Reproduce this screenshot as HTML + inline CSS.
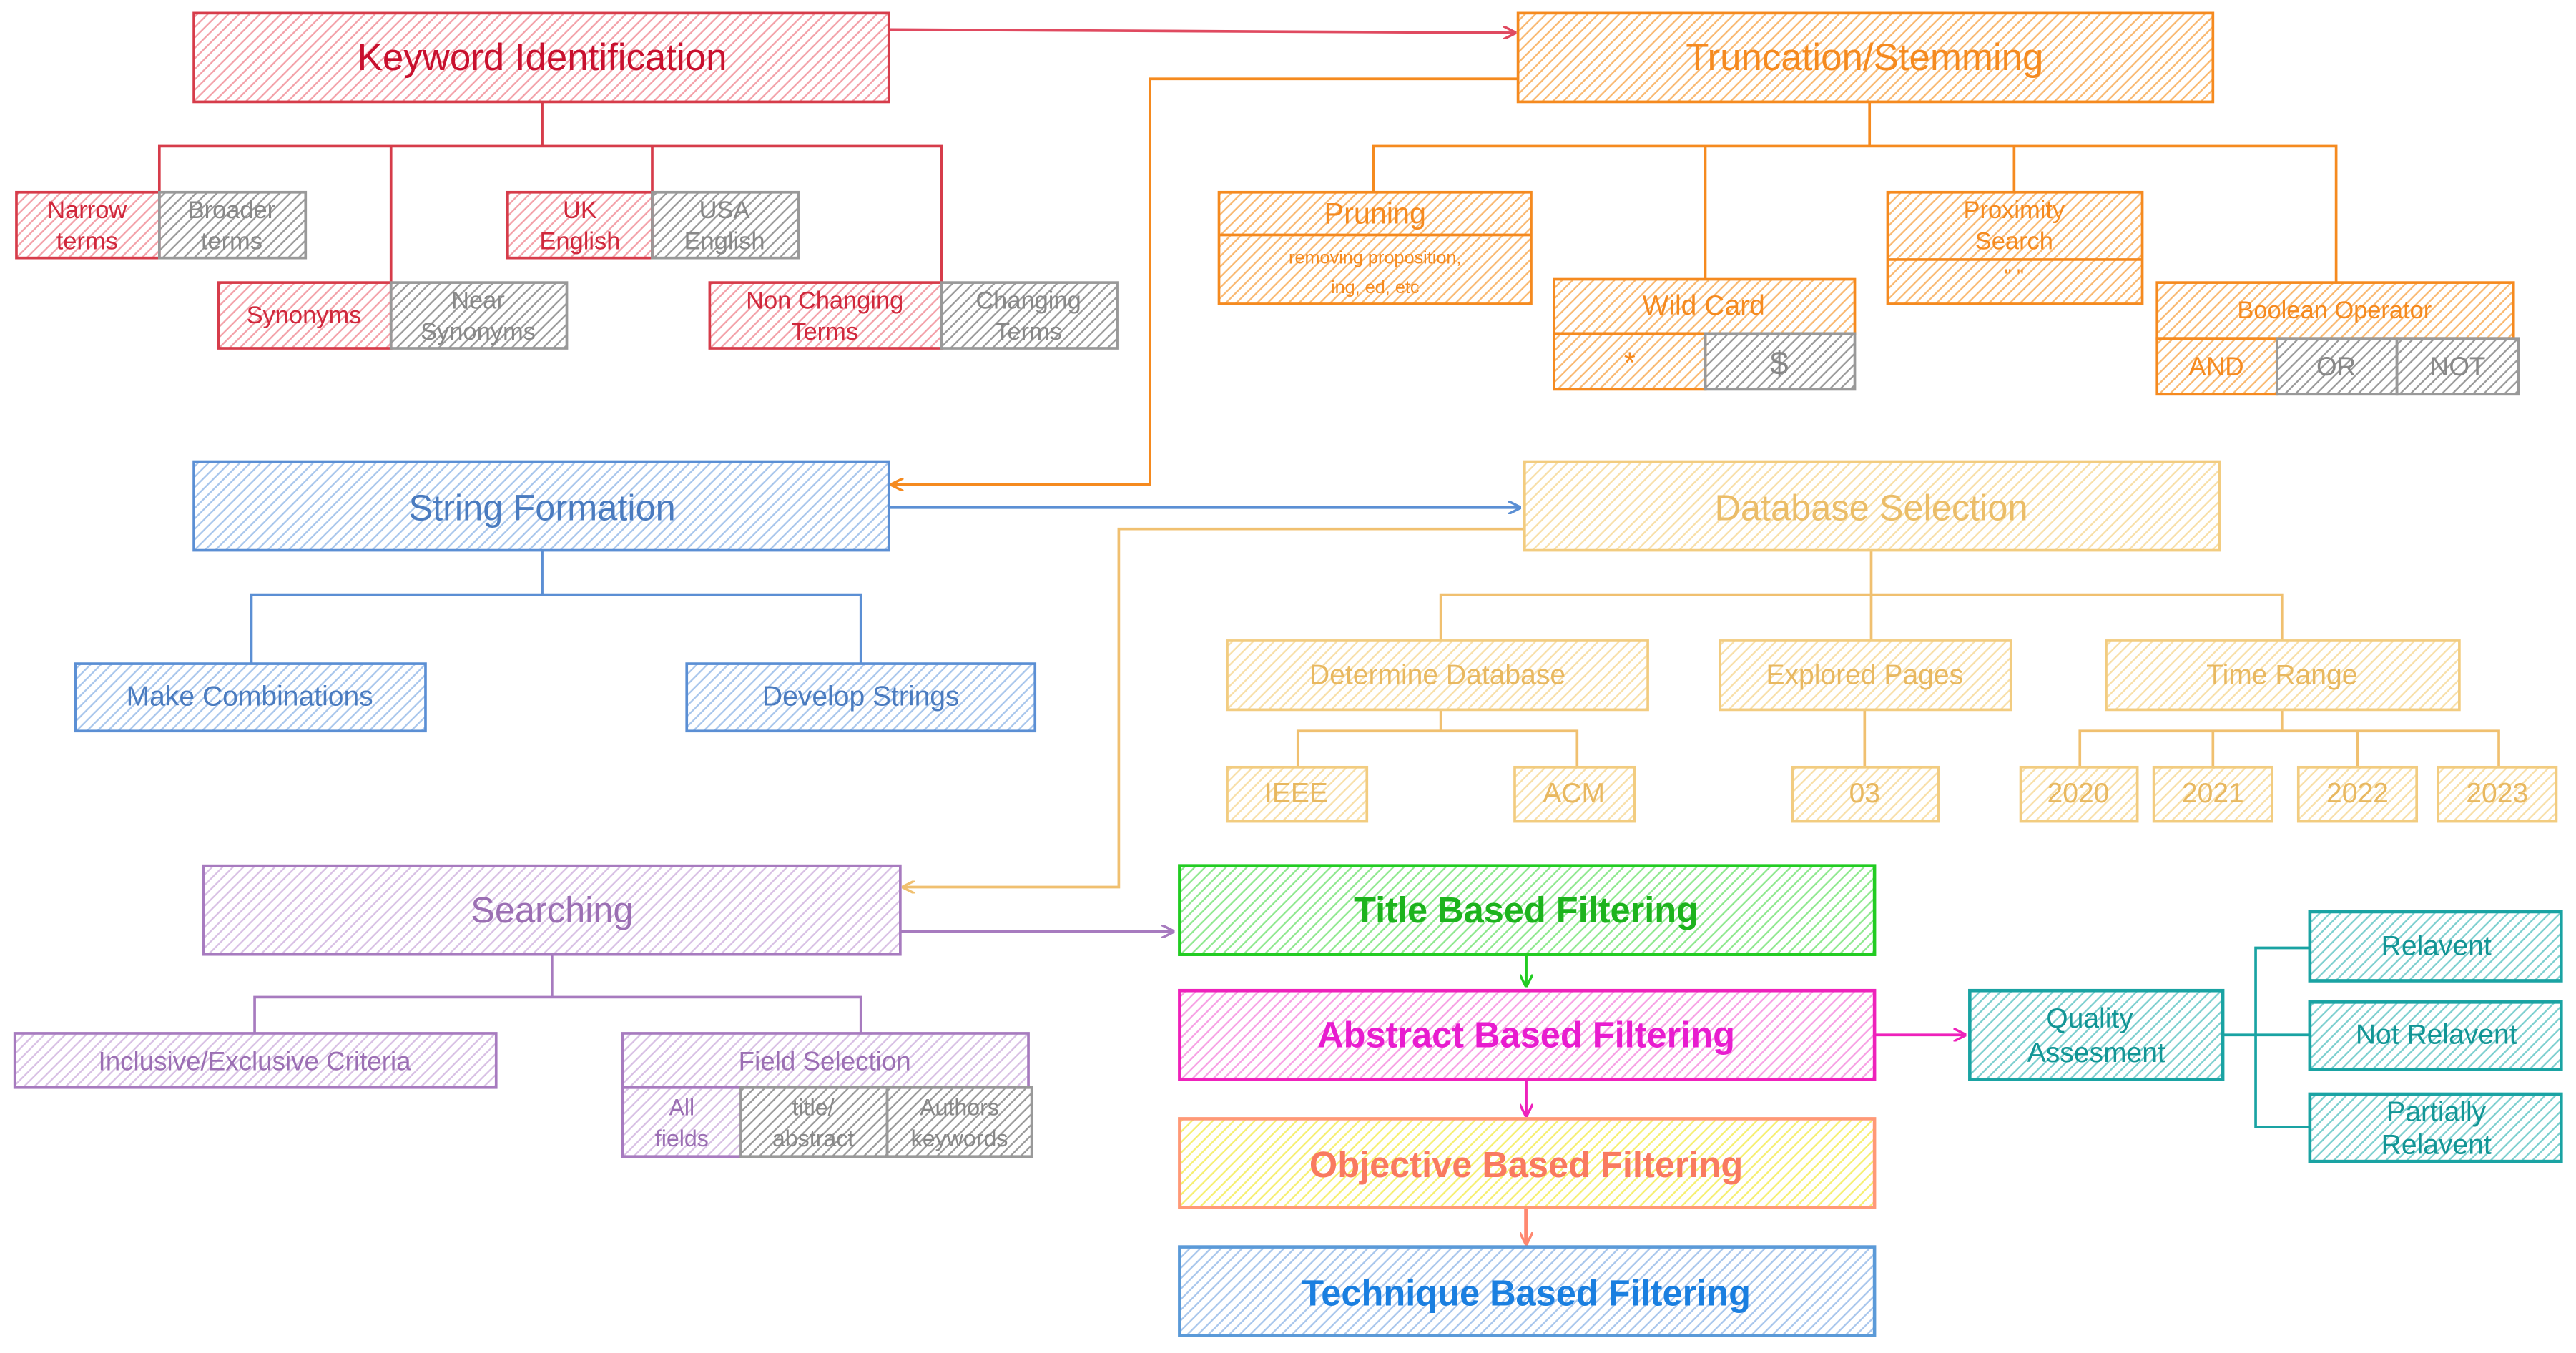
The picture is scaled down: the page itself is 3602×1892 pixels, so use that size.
<!DOCTYPE html>
<html><head><meta charset="utf-8"><style>
html,body{margin:0;padding:0;background:#fff;width:3602px;height:1892px;overflow:hidden}
svg{display:block}
text{font-family:"Liberation Sans",sans-serif;text-anchor:middle;dominant-baseline:central}
</style></head><body>
<svg width="3602" height="1892" viewBox="0 0 1568 823.6" preserveAspectRatio="none" xmlns="http://www.w3.org/2000/svg">
<defs>
<pattern id="hr" width="4.5" height="4.5" patternUnits="userSpaceOnUse" patternTransform="rotate(45)"><line x1="1" y1="0" x2="1" y2="4.5" stroke="#f3a0a8" stroke-width="1"/></pattern>
<pattern id="hg" width="4.5" height="4.5" patternUnits="userSpaceOnUse" patternTransform="rotate(45)"><line x1="1" y1="0" x2="1" y2="4.5" stroke="#999" stroke-width="1"/></pattern>
<pattern id="ho" width="4.5" height="4.5" patternUnits="userSpaceOnUse" patternTransform="rotate(45)"><line x1="1" y1="0" x2="1" y2="4.5" stroke="#f9b870" stroke-width="1"/></pattern>
<pattern id="hb" width="4.5" height="4.5" patternUnits="userSpaceOnUse" patternTransform="rotate(45)"><line x1="1" y1="0" x2="1" y2="4.5" stroke="#a8c6ec" stroke-width="1"/></pattern>
<pattern id="hy" width="4.5" height="4.5" patternUnits="userSpaceOnUse" patternTransform="rotate(45)"><line x1="1" y1="0" x2="1" y2="4.5" stroke="#f8dfa8" stroke-width="1"/></pattern>
<pattern id="hp" width="4.5" height="4.5" patternUnits="userSpaceOnUse" patternTransform="rotate(45)"><line x1="1" y1="0" x2="1" y2="4.5" stroke="#d8c0e4" stroke-width="1"/></pattern>
<pattern id="hgr" width="4.5" height="4.5" patternUnits="userSpaceOnUse" patternTransform="rotate(45)"><line x1="1" y1="0" x2="1" y2="4.5" stroke="#8ee88e" stroke-width="1"/></pattern>
<pattern id="hm" width="4.5" height="4.5" patternUnits="userSpaceOnUse" patternTransform="rotate(45)"><line x1="1" y1="0" x2="1" y2="4.5" stroke="#f7a0e4" stroke-width="1"/></pattern>
<pattern id="hyl" width="4.5" height="4.5" patternUnits="userSpaceOnUse" patternTransform="rotate(45)"><line x1="1" y1="0" x2="1" y2="4.5" stroke="#f6ef70" stroke-width="1"/></pattern>
<pattern id="ht" width="4.5" height="4.5" patternUnits="userSpaceOnUse" patternTransform="rotate(45)"><line x1="1" y1="0" x2="1" y2="4.5" stroke="#7ccfcf" stroke-width="1"/></pattern>
<marker id="ar" markerWidth="8" markerHeight="8" refX="7" refY="4" orient="auto" markerUnits="userSpaceOnUse"><path d="M0,0 L8,4 L0,8" fill="none" stroke="context-stroke" stroke-width="1.5"/></marker>
</defs>
<g fill="none" stroke-width="1.6">
<!-- connectors -->
<path d="M541,18 L922,20" stroke="#e04a60" marker-end="url(#ar)"/>
<path d="M924,48 L700,48 L700,295 L543,295" stroke="#f58a1f" marker-end="url(#ar)"/>
<path d="M541,309 L925,309" stroke="#5b8fd4" marker-end="url(#ar)"/>
<path d="M928,322 L681,322 L681,540 L550,540" stroke="#f0c070" marker-end="url(#ar)"/>
<path d="M548,567 L714,567" stroke="#a77bbf" marker-end="url(#ar)"/>
<path d="M929,581 L929,600" stroke="#22cc22" marker-end="url(#ar)"/>
<path d="M929,657 L929,679" stroke="#ee22bb" marker-end="url(#ar)"/>
<path d="M929,735 L929,757" stroke="#ff8870" stroke-width="2.5" marker-end="url(#ar)"/>
<path d="M1141,630 L1196,630" stroke="#ee22bb" marker-end="url(#ar)"/>
<path d="M330,62 V89 M97,117 V89 H573 V172 M238,89 V172 M397,89 V117" stroke="#d63c4a"/>
<path d="M1138,62 V89 M836,117 V89 H1422 V172 M1038,89 V170 M1226,89 V117" stroke="#f58a1f"/>
<path d="M330,335 V362 M153,404 V362 H524 V404" stroke="#5b8fd4"/>
<path d="M1139,335 V362 M877,390 V362 H1389 V390 M1139,362 V390 M877,432 V445 M790,467 V445 H960 V467 M1135,432 V467 M1389,432 V445 M1266,467 V445 H1521 V467 M1347,445 V467 M1435,445 V467" stroke="#f0c070"/>
<path d="M336,581 V607 M155,629 V607 H524 V629" stroke="#a77bbf"/>
<path d="M1353,630 H1373 M1406,577 H1373 V686 H1406 M1373,630 H1406" stroke="#1aa3a3"/>
</g>
<g stroke-width="1.6">
<rect x="118" y="8" width="423" height="54" fill="url(#hr)" stroke="#d63c4a"/>
<rect x="10" y="117" width="87" height="40" fill="url(#hr)" stroke="#d63c4a"/>
<rect x="97" y="117" width="89" height="40" fill="url(#hg)" stroke="#999"/>
<rect x="133" y="172" width="105" height="40" fill="url(#hr)" stroke="#d63c4a"/>
<rect x="238" y="172" width="107" height="40" fill="url(#hg)" stroke="#999"/>
<rect x="309" y="117" width="88" height="40" fill="url(#hr)" stroke="#d63c4a"/>
<rect x="397" y="117" width="89" height="40" fill="url(#hg)" stroke="#999"/>
<rect x="432" y="172" width="141" height="40" fill="url(#hr)" stroke="#d63c4a"/>
<rect x="573" y="172" width="107" height="40" fill="url(#hg)" stroke="#999"/>

<rect x="924" y="8" width="423" height="54" fill="url(#ho)" stroke="#f58a1f"/>
<rect x="742" y="117" width="190" height="68" fill="url(#ho)" stroke="#f58a1f"/>
<line x1="742" y1="143" x2="932" y2="143" stroke="#f58a1f"/>
<rect x="946" y="170" width="183" height="33" fill="url(#ho)" stroke="#f58a1f"/>
<rect x="946" y="203" width="92" height="34" fill="url(#ho)" stroke="#f58a1f"/>
<rect x="1038" y="203" width="91" height="34" fill="url(#hg)" stroke="#999"/>
<rect x="1149" y="117" width="155" height="68" fill="url(#ho)" stroke="#f58a1f"/>
<line x1="1149" y1="158" x2="1304" y2="158" stroke="#f58a1f"/>
<rect x="1313" y="172" width="217" height="34" fill="url(#ho)" stroke="#f58a1f"/>
<rect x="1313" y="206" width="73" height="34" fill="url(#ho)" stroke="#f58a1f"/>
<rect x="1386" y="206" width="73" height="34" fill="url(#hg)" stroke="#999"/>
<rect x="1459" y="206" width="74" height="34" fill="url(#hg)" stroke="#999"/>

<rect x="118" y="281" width="423" height="54" fill="url(#hb)" stroke="#5b8fd4"/>
<rect x="46" y="404" width="213" height="41" fill="url(#hb)" stroke="#5b8fd4"/>
<rect x="418" y="404" width="212" height="41" fill="url(#hb)" stroke="#5b8fd4"/>

<rect x="928" y="281" width="423" height="54" fill="url(#hy)" stroke="#f2cc80"/>
<rect x="747" y="390" width="256" height="42" fill="url(#hy)" stroke="#f2cc80"/>
<rect x="1047" y="390" width="177" height="42" fill="url(#hy)" stroke="#f2cc80"/>
<rect x="1282" y="390" width="215" height="42" fill="url(#hy)" stroke="#f2cc80"/>
<rect x="747" y="467" width="85" height="33" fill="url(#hy)" stroke="#f2cc80"/>
<rect x="922" y="467" width="73" height="33" fill="url(#hy)" stroke="#f2cc80"/>
<rect x="1091" y="467" width="89" height="33" fill="url(#hy)" stroke="#f2cc80"/>
<rect x="1230" y="467" width="71" height="33" fill="url(#hy)" stroke="#f2cc80"/>
<rect x="1311" y="467" width="72" height="33" fill="url(#hy)" stroke="#f2cc80"/>
<rect x="1399" y="467" width="72" height="33" fill="url(#hy)" stroke="#f2cc80"/>
<rect x="1484" y="467" width="72" height="33" fill="url(#hy)" stroke="#f2cc80"/>

<rect x="124" y="527" width="424" height="54" fill="url(#hp)" stroke="#a77bbf"/>
<rect x="9" y="629" width="293" height="33" fill="url(#hp)" stroke="#a77bbf"/>
<rect x="379" y="629" width="247" height="33" fill="url(#hp)" stroke="#a77bbf"/>
<rect x="379" y="662" width="72" height="42" fill="url(#hp)" stroke="#a77bbf"/>
<rect x="451" y="662" width="89" height="42" fill="url(#hg)" stroke="#999"/>
<rect x="540" y="662" width="88" height="42" fill="url(#hg)" stroke="#999"/>

<rect x="718" y="527" width="423" height="54" fill="url(#hgr)" stroke="#22cc22" stroke-width="2"/>
<rect x="718" y="603" width="423" height="54" fill="url(#hm)" stroke="#ee22bb" stroke-width="2"/>
<rect x="718" y="681" width="423" height="54" fill="url(#hyl)" stroke="#ff9977" stroke-width="2"/>
<rect x="718" y="759" width="423" height="54" fill="url(#hb)" stroke="#5b9ad8" stroke-width="2"/>
<rect x="1199" y="603" width="154" height="54" fill="url(#ht)" stroke="#1aa3a3" stroke-width="2"/>
<rect x="1406" y="555" width="153" height="42" fill="url(#ht)" stroke="#1aa3a3" stroke-width="2"/>
<rect x="1406" y="610" width="153" height="41" fill="url(#ht)" stroke="#1aa3a3" stroke-width="2"/>
<rect x="1406" y="666" width="153" height="41" fill="url(#ht)" stroke="#1aa3a3" stroke-width="2"/>
</g>
<g font-size="15">
<text x="330" y="35" font-size="23" fill="#c8102e">Keyword Identification</text>
<g fill="#d0283c"><text x="53" y="128">Narrow</text><text x="53" y="147">terms</text>
<text x="185" y="192">Synonyms</text>
<text x="353" y="128">UK</text><text x="353" y="147">English</text>
<text x="502" y="183">Non Changing</text><text x="502" y="202">Terms</text></g>
<g fill="#888"><text x="141" y="128">Broader</text><text x="141" y="147">terms</text>
<text x="291" y="183">Near</text><text x="291" y="202">Synonyms</text>
<text x="441" y="128">USA</text><text x="441" y="147">English</text>
<text x="626" y="183">Changing</text><text x="626" y="202">Terms</text></g>

<text x="1135" y="35" font-size="23" fill="#f58a1f">Truncation/Stemming</text>
<g fill="#f58a1f"><text x="837" y="130" font-size="18">Pruning</text>
<text x="837" y="157" font-size="11">removing proposition,</text><text x="837" y="175" font-size="11">ing, ed, etc</text>
<text x="1037" y="186" font-size="17">Wild Card</text><text x="992" y="221" font-size="18">*</text>
<text x="1226" y="128">Proximity</text><text x="1226" y="147">Search</text><text x="1226" y="168" font-size="12">" "</text>
<text x="1421" y="189">Boolean Operator</text><text x="1349" y="223" font-size="16">AND</text></g>
<g fill="#888"><text x="1083" y="221" font-size="20">$</text><text x="1422" y="223" font-size="16">OR</text><text x="1496" y="223" font-size="16">NOT</text></g>

<text x="330" y="309" font-size="22" fill="#4a7bbf">String Formation</text>
<g fill="#4a7bbf" font-size="17"><text x="152" y="424">Make Combinations</text><text x="524" y="424">Develop Strings</text></g>

<text x="1139" y="309" font-size="22" fill="#ebbd68">Database Selection</text>
<g fill="#e8b860" font-size="17"><text x="875" y="411">Determine Database</text><text x="1135" y="411">Explored Pages</text><text x="1389" y="411">Time Range</text>
<text x="789" y="483">IEEE</text><text x="958" y="483">ACM</text><text x="1135" y="483">03</text>
<text x="1265" y="483">2020</text><text x="1347" y="483">2021</text><text x="1435" y="483">2022</text><text x="1520" y="483">2023</text></g>

<text x="336" y="554" font-size="22" fill="#9b6fb3">Searching</text>
<g fill="#9b6fb3" font-size="16"><text x="155" y="646">Inclusive/Exclusive Criteria</text><text x="502" y="646">Field Selection</text>
<text x="415" y="674" font-size="14">All</text><text x="415" y="693" font-size="14">fields</text></g>
<g fill="#888" font-size="14"><text x="495" y="674">title/</text><text x="495" y="693">abstract</text><text x="584" y="674">Authors</text><text x="584" y="693">keywords</text></g>

<g font-size="22" font-weight="bold"><text x="929" y="554" fill="#1db31d">Title Based Filtering</text>
<text x="929" y="630" fill="#e81ccf">Abstract Based Filtering</text>
<text x="929" y="709" fill="#f97a60">Objective Based Filtering</text>
<text x="929" y="787" fill="#1a7fe0">Technique Based Filtering</text></g>
<g fill="#129595" font-size="17"><text x="1272" y="620">Quality</text><text x="1276" y="641">Assesment</text>
<text x="1483" y="576">Relavent</text><text x="1483" y="630">Not Relavent</text><text x="1483" y="677">Partially</text><text x="1483" y="697">Relavent</text></g>
</g>
</svg>
</body></html>
